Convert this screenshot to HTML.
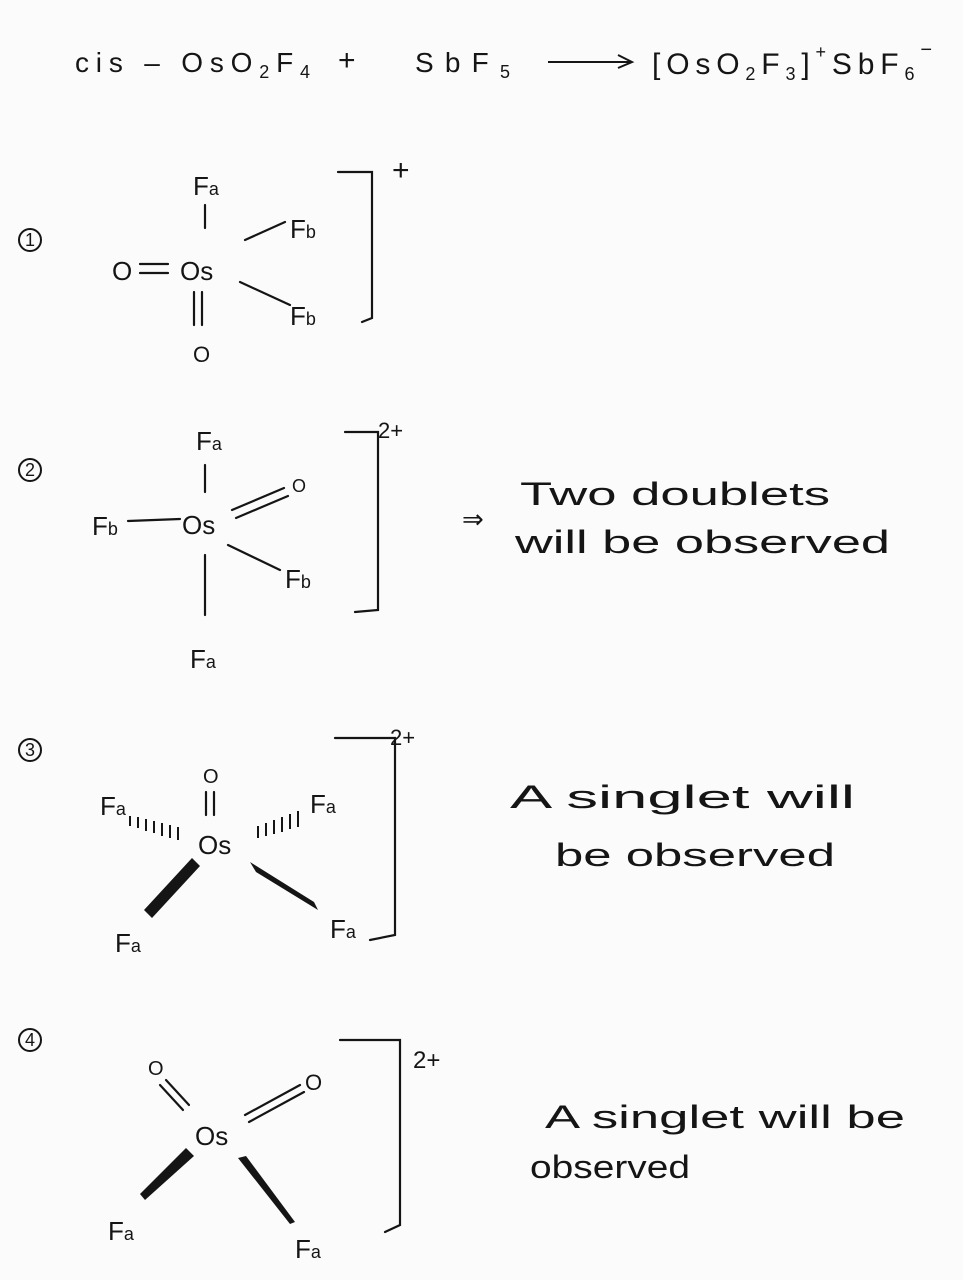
<!DOCTYPE html>
<html><head><meta charset="utf-8"><style>
html,body{margin:0;padding:0;background:#fbfbfb;}
svg{display:block;}
text{font-family:"Liberation Sans",sans-serif;fill:#151515;}
</style></head><body>
<svg width="963" height="1280" viewBox="0 0 963 1280" xmlns="http://www.w3.org/2000/svg">
<rect width="963" height="1280" fill="#fbfbfb"/>
<text x="75" y="72" font-size="28" textLength="235" lengthAdjust="spacing">cis – OsO<tspan font-size="18" dy="6">2</tspan><tspan dy="-6">F</tspan><tspan font-size="18" dy="6">4</tspan></text>
<text x="338" y="70" font-size="30">+</text>
<text x="415" y="72" font-size="28" textLength="95" lengthAdjust="spacing">SbF<tspan font-size="18" dy="6">5</tspan></text>
<line x1="548" y1="62" x2="630" y2="62" stroke="#151515" stroke-width="2"/>
<path d="M618 55 L632 62 L618 68" stroke="#151515" stroke-width="2" fill="none"/>
<text x="652" y="74" font-size="30" textLength="280" lengthAdjust="spacing">[OsO<tspan font-size="18" dy="6">2</tspan><tspan dy="-6">F</tspan><tspan font-size="18" dy="6">3</tspan><tspan dy="-6">]</tspan><tspan font-size="18" dy="-16">+</tspan><tspan dy="16">SbF</tspan><tspan font-size="18" dy="6">6</tspan><tspan font-size="20" dy="-24">−</tspan></text>

<g font-size="18" text-anchor="middle">
<circle cx="30" cy="240" r="11" stroke="#151515" stroke-width="2" fill="none"/><text x="30" y="246">1</text>
<circle cx="30" cy="470" r="11" stroke="#151515" stroke-width="2" fill="none"/><text x="30" y="476">2</text>
<circle cx="30" cy="750" r="11" stroke="#151515" stroke-width="2" fill="none"/><text x="30" y="756">3</text>
<circle cx="30" cy="1040" r="11" stroke="#151515" stroke-width="2" fill="none"/><text x="30" y="1046">4</text>
</g>

<g stroke="#151515" stroke-width="2.2" fill="none" stroke-linecap="round">
<line x1="205" y1="205" x2="205" y2="228"/>
<line x1="245" y1="240" x2="285" y2="222"/>
<line x1="240" y1="282" x2="290" y2="305"/>
<line x1="194" y1="292" x2="194" y2="325"/><line x1="202" y1="292" x2="202" y2="325"/>
<line x1="140" y1="264" x2="168" y2="264"/><line x1="140" y1="273" x2="168" y2="273"/>
<path d="M338 172 L372 172 L372 318 L362 322"/>
<line x1="205" y1="465" x2="205" y2="492"/>
<line x1="128" y1="521" x2="180" y2="519"/>
<line x1="232" y1="510" x2="284" y2="488"/><line x1="236" y1="518" x2="288" y2="496"/>
<line x1="228" y1="545" x2="280" y2="570"/>
<line x1="205" y1="555" x2="205" y2="615"/>
<path d="M345 432 L378 432 L378 610 L355 612"/>
<line x1="206" y1="792" x2="206" y2="815"/><line x1="214" y1="792" x2="214" y2="815"/>
<path d="M335 738 L395 738 L395 935 L370 940"/>
<line x1="160" y1="1085" x2="183" y2="1110"/><line x1="166" y1="1080" x2="189" y2="1105"/>
<line x1="245" y1="1115" x2="300" y2="1085"/><line x1="249" y1="1122" x2="304" y2="1092"/>
<path d="M340 1040 L400 1040 L400 1225 L385 1232"/>
</g>
<g stroke="#151515" stroke-width="2">
<line x1="130" y1="816" x2="130" y2="826"/><line x1="138" y1="817" x2="138" y2="828"/><line x1="146" y1="819" x2="146" y2="831"/><line x1="154" y1="821" x2="154" y2="833"/><line x1="162" y1="823" x2="162" y2="836"/><line x1="170" y1="825" x2="170" y2="838"/><line x1="178" y1="827" x2="178" y2="840"/>
<line x1="258" y1="838" x2="258" y2="826"/><line x1="266" y1="836" x2="266" y2="823"/><line x1="274" y1="834" x2="274" y2="820"/><line x1="282" y1="832" x2="282" y2="817"/><line x1="290" y1="829" x2="290" y2="814"/><line x1="298" y1="827" x2="298" y2="811"/>
</g>
<g fill="#151515">
<polygon points="192,858 200,866 152,918 144,910"/>
<polygon points="250,862 256,872 318,910 314,902"/>
<polygon points="186,1148 194,1156 145,1200 140,1194"/>
<polygon points="238,1158 246,1156 295,1222 290,1224"/>
</g>

<g font-size="26">
<text x="193" y="195">F<tspan font-size="18">a</tspan></text>
<text x="112" y="280">O</text>
<text x="180" y="280">Os</text>
<text x="290" y="238">F<tspan font-size="18">b</tspan></text>
<text x="290" y="325">F<tspan font-size="18">b</tspan></text>
<text x="193" y="362" font-size="22">O</text>
<text x="392" y="180" font-size="30">+</text>
<text x="196" y="450">F<tspan font-size="18">a</tspan></text>
<text x="92" y="535">F<tspan font-size="18">b</tspan></text>
<text x="182" y="534">Os</text>
<text x="292" y="492" font-size="18">O</text>
<text x="285" y="588">F<tspan font-size="18">b</tspan></text>
<text x="190" y="668">F<tspan font-size="18">a</tspan></text>
<text x="378" y="438" font-size="22">2+</text>
<text x="462" y="528" font-size="26">⇒</text>
<text x="520" y="505" font-size="32" textLength="310" lengthAdjust="spacingAndGlyphs">Two doublets</text>
<text x="515" y="553" font-size="32" textLength="375" lengthAdjust="spacingAndGlyphs">will be observed</text>
<text x="203" y="783" font-size="20">O</text>
<text x="198" y="854">Os</text>
<text x="100" y="815">F<tspan font-size="18">a</tspan></text>
<text x="310" y="813">F<tspan font-size="18">a</tspan></text>
<text x="115" y="952">F<tspan font-size="18">a</tspan></text>
<text x="330" y="938">F<tspan font-size="18">a</tspan></text>
<text x="390" y="745" font-size="22">2+</text>
<text x="510" y="808" font-size="32" textLength="345" lengthAdjust="spacingAndGlyphs">A singlet will</text>
<text x="555" y="866" font-size="32" textLength="280" lengthAdjust="spacingAndGlyphs">be observed</text>
<text x="148" y="1075" font-size="20">O</text>
<text x="195" y="1145">Os</text>
<text x="305" y="1090" font-size="22">O</text>
<text x="108" y="1240">F<tspan font-size="18">a</tspan></text>
<text x="295" y="1258">F<tspan font-size="18">a</tspan></text>
<text x="413" y="1068" font-size="24">2+</text>
<text x="545" y="1128" font-size="32" textLength="360" lengthAdjust="spacingAndGlyphs">A singlet will be</text>
<text x="530" y="1178" font-size="32" textLength="160" lengthAdjust="spacingAndGlyphs">observed</text>
</g>
</svg>
</body></html>
